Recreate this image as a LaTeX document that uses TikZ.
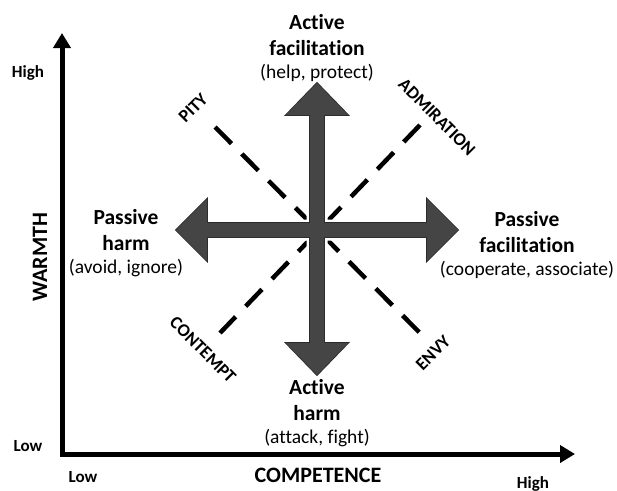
\documentclass[tikz,border=0pt]{standalone}
\usepackage{fontspec}
\setmainfont{Carlito}[Ligatures=NoCommon]
\usetikzlibrary{arrows.meta}
\definecolor{arrowgray}{HTML}{454545}
\definecolor{arrowedge}{HTML}{2A2A2A}
\newcommand\subfnt{\fontsize{19.5}{23}\selectfont\mdseries}
\begin{document}
\begin{tikzpicture}[x=1pt,y=-1pt,
  title/.style={align=center, anchor=north, inner sep=0pt, font=\fontsize{21.5}{26}\selectfont\bfseries},
  diag/.style={font=\fontsize{18}{21}\selectfont\bfseries, inner sep=0pt},
  axislabel/.style={font=\fontsize{22}{26}\selectfont\bfseries, inner sep=0pt},
  tick/.style={font=\fontsize{17}{20}\selectfont\bfseries, inner sep=0pt, anchor=base},
  axisline/.style={line width=5pt, line join=miter, {Triangle[width=17pt,length=15pt]}-{Triangle[width=17pt,length=15pt]}},
  emotion/.style={line width=4.5pt, dash pattern=on 23.5pt off 14.5pt},
  halo/.style={draw=white, line width=7pt, line join=miter},
  edge/.style={draw=arrowedge, line width=1.6pt, line join=miter},
  body/.style={fill=arrowgray},
]
\useasboundingbox (0,0) rectangle (617,490);
% axes
\coordinate (origin) at (62,454);
\coordinate (ytop) at (62,33);
\coordinate (xend) at (575,454);
\draw[axisline] (ytop) -- (origin) -- (xend);
% emotion diagonals
\coordinate (pity) at (215,127);
\coordinate (envy) at (422,335);
\coordinate (admiration) at (420,125);
\coordinate (contempt) at (220,333);
\draw[emotion] (pity) -- (envy);
\draw[emotion] (admiration) -- (contempt);
% behaviour arrows
\def\vshape{(317,83) -- (348,115) -- (324,115) -- (324,343) -- (348,343) -- (317,375) -- (286,343) -- (310,343) -- (310,115) -- (286,115) -- cycle}
\def\hshape{(176,230) -- (207,199) -- (207,223) -- (427,223) -- (427,199) -- (458,230) -- (427,261) -- (427,237) -- (207,237) -- (207,261) -- cycle}
\path[halo] \vshape;
\path[halo] \hshape;
\path[edge] \vshape;
\path[edge] \hshape;
\path[body] \vshape;
\path[body] \hshape;
% behaviour labels
\node[title] (af) at (317,14) {Active\\facilitation\\[-3pt]\subfnt (help, protect)};
\node[title] (ph) at (126,209) {Passive\\harm\\[-3pt]\subfnt (avoid, ignore)};
\node[title] (pf) at (527,211) {Passive\\facilitation\\[-3pt]\subfnt (cooperate, associate)};
\node[title] (ah) at (317,379) {Active\\harm\\[-3pt]\subfnt (attack, fight)};
% emotion labels
\node[diag, rotate=45] (pitylbl) at (193,108) {PITY};
\node[diag, rotate=-45] (admlbl) at (437,117) {ADMIRATION};
\node[diag, rotate=-45] (conlbl) at (203,350) {CONTEMPT};
\node[diag, rotate=45] (envylbl) at (433,353) {ENVY};
% axis labels
\node[axislabel, rotate=90] (warmth) at (40,257) {WARMTH};
\node[axislabel, anchor=base] (competence) at (318,482) {COMPETENCE};
\node[tick] (highy) at (28,77) {High};
\node[tick] (lowy) at (28,451) {Low};
\node[tick] (lowx) at (83,482) {Low};
\node[tick] (highx) at (533,488) {High};
\end{tikzpicture}
\end{document}
